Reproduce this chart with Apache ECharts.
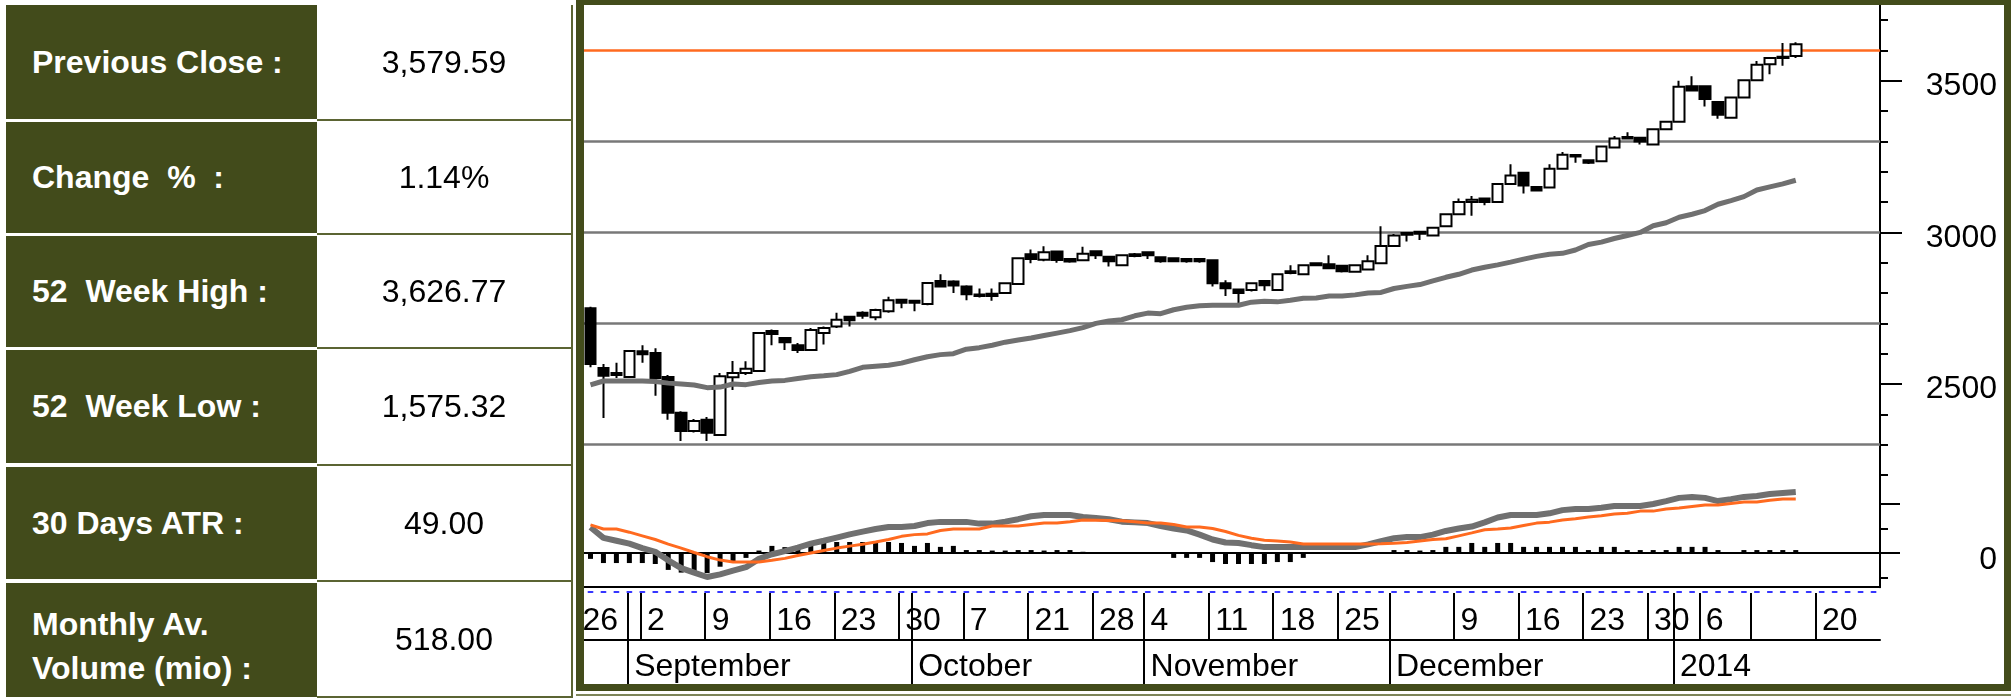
<!DOCTYPE html>
<html>
<head>
<meta charset="utf-8">
<title>Index – daily chart</title>
<script src="https://cdn.jsdelivr.net/npm/echarts@6/dist/echarts.min.js"></script>
<style>
  html, body { margin: 0; padding: 0; background: #fff; }
  #page { position: relative; width: 2011px; height: 700px; overflow: hidden; font-family: 'Liberation Sans', Arial, sans-serif; }
  #chart { position: absolute; left: 0; top: 0; width: 2011px; height: 700px; }
  .lab { position: absolute; left: 6px; width: 311px; background: #424b1b; color: #fff; font-weight: bold; font-size: 32px;
         display: flex; align-items: center; padding-left: 26px; box-sizing: border-box; white-space: pre; z-index: 2; }
  .lab.two { line-height: 44px; padding-top: 12px; }
  .val { position: absolute; left: 317px; width: 256px; color: #000; font-size: 32px; display: flex; align-items: center;
         justify-content: center; box-sizing: border-box; border-right: 2px solid #5b6433; border-bottom: 2px solid #5b6433; z-index: 2; }
  #frame { position: absolute; left: 576px; top: 0; width: 1435px; height: 691px; box-sizing: border-box; border-style: solid;
           border-color: #434c1b; border-width: 5px 7px 7px 8px; z-index: 3; pointer-events: none; }
  #under { position: absolute; left: 576px; top: 694px; width: 1435px; height: 2px; background: #7d8559; z-index: 3; }
</style>
</head>
<body>
<div id="page">
  <div id="chart"></div>

  <div class="lab" style="top:5px;height:114px">Previous Close :</div>
  <div class="val" style="top:5px;height:116px">3,579.59</div>
  <div class="lab" style="top:122px;height:111px">Change  %  :</div>
  <div class="val" style="top:121px;height:114px">1.14%</div>
  <div class="lab" style="top:236px;height:111px">52  Week High :</div>
  <div class="val" style="top:235px;height:114px">3,626.77</div>
  <div class="lab" style="top:350px;height:113px">52  Week Low :</div>
  <div class="val" style="top:349px;height:117px">1,575.32</div>
  <div class="lab" style="top:467px;height:112px">30 Days ATR :</div>
  <div class="val" style="top:466px;height:116px">49.00</div>
  <div class="lab two" style="top:583px;height:114px">Monthly Av.
Volume (mio) :</div>
  <div class="val" style="top:582px;height:116px">518.00</div>

  <div id="frame"></div>
  <div id="under"></div>
</div>

<script>
// trading days shown on the chart (last 6 are future sessions)
const days = [
  '2013-08-27','2013-08-28','2013-08-29',
  '2013-09-01','2013-09-02','2013-09-03','2013-09-04','2013-09-05','2013-09-08',
  '2013-09-09','2013-09-10','2013-09-11','2013-09-12','2013-09-15',
  '2013-09-16','2013-09-17','2013-09-18','2013-09-19','2013-09-22',
  '2013-09-23','2013-09-24','2013-09-25','2013-09-26','2013-09-29','2013-09-30',
  '2013-10-01','2013-10-02','2013-10-03','2013-10-06',
  '2013-10-07','2013-10-08','2013-10-09','2013-10-10','2013-10-13',
  '2013-10-21','2013-10-22','2013-10-23','2013-10-24','2013-10-27',
  '2013-10-28','2013-10-29','2013-10-30','2013-10-31',
  '2013-11-04','2013-11-05','2013-11-06','2013-11-07','2013-11-10',
  '2013-11-11','2013-11-12','2013-11-13','2013-11-14','2013-11-17',
  '2013-11-18','2013-11-19','2013-11-20','2013-11-21','2013-11-24',
  '2013-11-25','2013-11-26','2013-11-27','2013-11-28',
  '2013-12-01','2013-12-03','2013-12-04','2013-12-05','2013-12-08',
  '2013-12-09','2013-12-10','2013-12-11','2013-12-12','2013-12-15',
  '2013-12-16','2013-12-17','2013-12-18','2013-12-19','2013-12-22',
  '2013-12-23','2013-12-24','2013-12-25','2013-12-26','2013-12-29',
  '2013-12-30','2013-12-31',
  '2014-01-02','2014-01-05',
  '2014-01-06','2014-01-07','2014-01-08','2014-01-09',
  '2014-01-13','2014-01-14','2014-01-15','2014-01-16','2014-01-19',
  '2014-01-20','2014-01-21','2014-01-22','2014-01-23','2014-01-26'
];
// extra dates only used by the date strip under the chart
const leadDay = ['2013-08-26'];
const padDays = ['2014-01-27','2014-01-28','2014-01-29','2014-01-30','2014-02-02',
                 '2014-02-03','2014-02-04','2014-02-05','2014-02-06','2014-02-09'];

const weekTickDays = ['2013-09-02','2013-09-09','2013-09-16','2013-09-23','2013-09-30','2013-10-07',
  '2013-10-21','2013-10-28','2013-11-04','2013-11-11','2013-11-18','2013-11-25','2013-12-09',
  '2013-12-16','2013-12-23','2013-12-30','2014-01-06','2014-01-13','2014-01-20'];
const weekLabelDays = ['2013-08-26','2013-09-02','2013-09-09','2013-09-16','2013-09-23','2013-09-30',
  '2013-10-07','2013-10-21','2013-10-28','2013-11-04','2013-11-11','2013-11-18','2013-11-25',
  '2013-12-09','2013-12-16','2013-12-23','2013-12-30','2014-01-06','2014-01-20'];
const weekLabelText = ['26','2','9','16','23','30','7','21','28','4','11','18','25','9','16','23','30','6','20'];
const monthDays = ['2013-09-01','2013-10-01','2013-11-04','2013-12-01','2014-01-02'];
const monthText = ['September','October','November','December','2014'];

const candleOpen = [2750,2553,2536,2523,2608,2602,2523,2405,2345,2382,
  2332,2522,2536,2543,2675,2652,2628,2612,2668,2690,
  2722,2735,2720,2740,2778,2775,2764,2840,2838,2822,
  2790,2798,2800,2830,2928,2910,2937,2912,2908,2938,
  2920,2892,2928,2935,2918,2915,2912,2912,2908,2832,
  2812,2810,2840,2810,2866,2862,2892,2895,2890,2870,
  2878,2898,2955,2998,3002,2990,3020,3060,3100,3112,
  3100,3160,3197,3150,3148,3210,3255,3238,3235,3280,
  3310,3312,3290,3340,3365,3482,3482,3430,3378,3445,
  3502,3555,3575,3582];
const candleClose = [2566,2527,2530,2609,2598,2520,2405,2345,2378,2339,
  2526,2536,2550,2668,2665,2638,2612,2678,2685,2712,
  2710,2725,2744,2776,2768,2768,2833,2822,2825,2796,
  2795,2790,2832,2915,2912,2935,2909,2904,2930,2925,
  2905,2925,2922,2925,2905,2905,2905,2905,2832,2816,
  2800,2832,2826,2862,2872,2892,2898,2882,2872,2892,
  2905,2955,2990,2992,2996,3015,3060,3100,3108,3100,
  3160,3188,3155,3138,3210,3256,3250,3230,3283,3310,
  3315,3300,3340,3365,3480,3468,3440,3388,3445,3502,
  3553,3575,3579.59,3620.42];
const candleLow = [2555,2388,2520,2520,2570,2461,2382,2312,2340,2312,
  2330,2480,2530,2540,2628,2612,2602,2610,2630,2685,
  2690,2715,2710,2735,2750,2740,2760,2820,2800,2776,
  2785,2775,2798,2828,2898,2905,2900,2900,2905,2912,
  2888,2890,2918,2912,2900,2902,2900,2900,2822,2790,
  2766,2805,2808,2808,2862,2860,2890,2880,2868,2868,
  2876,2896,2953,2970,2975,2988,3018,3058,3055,3090,
  3098,3158,3128,3135,3146,3208,3230,3226,3233,3278,
  3308,3290,3288,3338,3363,3465,3415,3375,3376,3443,
  3500,3522,3550,3575];
const candleHigh = [2755,2566,2570,2612,2628,2618,2530,2410,2385,2391,
  2536,2576,2575,2670,2680,2655,2635,2685,2690,2735,
  2725,2740,2748,2788,2780,2778,2835,2862,2842,2826,
  2815,2815,2835,2918,2944,2954,2940,2915,2953,2940,
  2922,2927,2932,2938,2920,2918,2914,2914,2910,2842,
  2815,2835,2842,2864,2892,2895,2900,2925,2892,2894,
  2925,3020,2995,3000,3004,3017,3062,3112,3120,3114,
  3162,3225,3199,3152,3225,3265,3258,3240,3285,3318,
  3330,3314,3342,3367,3500,3515,3484,3432,3447,3504,
  3565,3577,3625,3626.77];

const movingAvg = [2497,2510,2510,2510,2510,2508,2503,2500,2497,2488,
  2490,2500,2498,2505,2510,2512,2518,2524,2527,2531,
  2542,2555,2559,2562,2569,2580,2590,2597,2600,2615,
  2620,2628,2638,2645,2652,2660,2668,2676,2686,2700,
  2708,2712,2725,2734,2732,2745,2753,2758,2760,2760,
  2760,2770,2773,2771,2776,2783,2784,2790,2790,2794,
  2800,2802,2815,2822,2828,2840,2852,2862,2876,2885,
  2893,2902,2912,2921,2928,2931,2942,2960,2968,2980,
  2990,3000,3022,3032,3050,3060,3072,3093,3105,3118,
  3140,3150,3160,3172];

const macdLine = [1.05,0.62,0.5,0.38,0.2,0.05,-0.3,-0.62,-0.8,-0.98,
  -0.87,-0.72,-0.58,-0.24,-0.05,0.08,0.22,0.38,0.5,0.63,
  0.76,0.87,0.98,1.06,1.06,1.1,1.22,1.27,1.27,1.27,
  1.2,1.2,1.28,1.38,1.5,1.55,1.55,1.55,1.47,1.43,
  1.38,1.28,1.25,1.22,1.1,1.0,0.92,0.75,0.55,0.43,
  0.41,0.32,0.24,0.24,0.24,0.24,0.24,0.24,0.24,0.24,
  0.35,0.48,0.6,0.65,0.65,0.75,0.9,1.0,1.08,1.25,
  1.45,1.55,1.55,1.55,1.62,1.75,1.8,1.8,1.85,1.92,
  1.92,1.92,2.0,2.12,2.25,2.29,2.25,2.12,2.2,2.29,
  2.33,2.41,2.45,2.49];
const signalLine = [1.15,0.98,0.98,0.85,0.7,0.55,0.36,0.2,0.02,-0.15,
  -0.29,-0.37,-0.37,-0.37,-0.3,-0.22,-0.1,0,0.1,0.2,
  0.28,0.36,0.45,0.55,0.68,0.75,0.78,0.92,0.98,0.98,
  0.98,1.1,1.1,1.1,1.16,1.22,1.22,1.28,1.35,1.34,
  1.33,1.32,1.28,1.22,1.22,1.16,1.06,1.06,1.0,0.88,
  0.72,0.6,0.52,0.49,0.45,0.37,0.37,0.37,0.37,0.37,
  0.37,0.38,0.4,0.43,0.49,0.55,0.58,0.7,0.82,0.95,
  0.98,1.02,1.12,1.22,1.26,1.35,1.4,1.47,1.52,1.59,
  1.62,1.71,1.71,1.8,1.84,1.9,1.96,1.96,2.02,2.08,
  2.08,2.15,2.2,2.2];
const histogram = [-0.24,-0.41,-0.41,-0.41,-0.41,-0.45,-0.69,-0.8,-0.82,-0.82,
  -0.56,-0.37,-0.2,0.1,0.29,0.24,0.29,0.33,0.41,0.45,
  0.45,0.45,0.41,0.45,0.41,0.29,0.41,0.25,0.29,0.12,
  0.12,0.1,0.1,0.12,0.12,0.1,0.12,0.12,0.05,0.04,
  0,0,0,0,0,-0.2,-0.2,-0.2,-0.37,-0.45,
  -0.45,-0.45,-0.45,-0.37,-0.37,-0.2,0,0,0,0,
  0,0.03,0.12,0.12,0.1,0.12,0.25,0.25,0.41,0.25,
  0.41,0.41,0.25,0.25,0.25,0.25,0.25,0.12,0.25,0.25,
  0.12,0.12,0.12,0.12,0.25,0.25,0.25,0.12,0.04,0.12,
  0.12,0.12,0.12,0.12];

const levelLines = [2300, 2700, 3000, 3300];
const highLevel = [3600];
const priceTicks = [2200,2300,2400,2500,2600,2700,2800,2900,3000,3100,3200,3300,3400,3500,3600,3700];
const priceLabels = [2500, 3000, 3500];
const lowerMinorTicks = [-1, 1];
const lowerMajorTicks = [0, 2];
const lowerLabels = [0];

const FONT = 'Liberation Sans';
const BLACK = '#000';
const GREY = '#707070';
const ORANGE = '#ff6a1f';

const stripDays = leadDay.concat(days, padDays);
const weekTickSet = new Set(weekTickDays);
const monthTickSet = new Set(monthDays);
const weekLabel = {};
weekLabelDays.forEach((d, i) => { weekLabel[d] = weekLabelText[i]; });
const monthLabel = {};
monthDays.forEach((d, i) => { monthLabel[d] = monthText[i]; });

const candles = candleOpen.map((o, i) => [o, candleClose[i], candleLow[i], candleHigh[i]]);

const DAY_W = 12.91;
const STRIP_LEFT = 589 - DAY_W;
const STRIP_W = stripDays.length * DAY_W;

// horizontal rule under the lower panel (grid 4)
const ruleAxis = (position, offset, lineStyle) => ({
  gridIndex: 4, type: 'category', data: days, position, offset,
  axisLine: { show: true, onZero: false, lineStyle }, axisTick: { show: false }, axisLabel: { show: false }
});
const hiddenY = gridIndex => ({ gridIndex, type: 'value', show: false, min: 0, max: 1 });

const chart = echarts.init(document.getElementById('chart'));

chart.setOption({
  animation: false,
  backgroundColor: 'transparent',
  textStyle: { fontFamily: FONT },
  grid: [
    { left: 584, top: 5, width: 1296, height: 470 },          // price panel
    { left: 584, top: 474.6, width: 1296, height: 112.7 },    // oscillator panel
    { left: STRIP_LEFT, top: 593, width: STRIP_W, height: 47 },  // day row
    { left: STRIP_LEFT, top: 593, width: STRIP_W, height: 92 },  // day + month rows
    { left: 584, top: 592, width: 1296, height: 48 }           // rules
  ],
  xAxis: [
    { gridIndex: 0, type: 'category', data: days, show: false },
    { gridIndex: 1, type: 'category', data: days,
      axisLine: { show: true, onZero: true, lineStyle: { color: BLACK, width: 2 } },
      axisTick: { show: false }, axisLabel: { show: false } },
    // week separators + day numbers
    { gridIndex: 2, type: 'category', data: stripDays, position: 'top',
      axisLine: { show: false }, axisTick: { show: false },
      splitLine: { show: true, interval: (i, v) => weekTickSet.has(v), lineStyle: { color: BLACK, width: 2 } },
      axisLabel: { inside: true, interval: (i, v) => v in weekLabel, formatter: v => weekLabel[v] || '',
                   align: 'left', margin: 12, fontSize: 32, fontFamily: FONT, color: BLACK } },
    // month separators through both rows + month names
    { gridIndex: 3, type: 'category', data: stripDays, position: 'bottom',
      axisLine: { show: false }, axisTick: { show: false },
      splitLine: { show: true, interval: (i, v) => monthTickSet.has(v), lineStyle: { color: BLACK, width: 2 } },
      axisLabel: { inside: true, interval: (i, v) => v in monthLabel, formatter: v => monthLabel[v] || '',
                   align: 'left', margin: 2, fontSize: 32, fontFamily: FONT, color: BLACK } },
    ruleAxis('top', 5, { color: BLACK, width: 2 }),
    ruleAxis('top', 0, { color: '#3535ff', width: 2, type: [4, 8.96], dashOffset: 8.46 }),
    ruleAxis('bottom', 0, { color: BLACK, width: 2 })
  ],
  yAxis: [
    { gridIndex: 0, type: 'value', position: 'right', min: 2200, max: 3750, splitLine: { show: false },
      axisLine: { show: true, lineStyle: { color: BLACK, width: 2 } },
      axisTick: { show: true, length: 8, customValues: priceTicks, lineStyle: { color: BLACK, width: 2 } },
      axisLabel: { customValues: priceLabels, formatter: v => String(v), align: 'right', margin: 117,
                   verticalAlign: 'top', lineHeight: 11, fontSize: 32, fontFamily: FONT, color: BLACK } },
    { gridIndex: 0, type: 'value', position: 'right', min: 2200, max: 3750, splitLine: { show: false },
      axisLine: { show: false },
      axisTick: { show: true, length: 22, customValues: priceLabels, lineStyle: { color: BLACK, width: 2 } },
      axisLabel: { show: false } },
    { gridIndex: 1, type: 'value', position: 'right', min: -1.4, max: 3.2, splitLine: { show: false },
      axisLine: { show: true, lineStyle: { color: BLACK, width: 2 } },
      axisTick: { show: true, length: 8, customValues: lowerMinorTicks, lineStyle: { color: BLACK, width: 2 } },
      axisLabel: { customValues: lowerLabels, formatter: v => String(v), align: 'right', margin: 117,
                   verticalAlign: 'top', lineHeight: 14, fontSize: 32, fontFamily: FONT, color: BLACK } },
    { gridIndex: 1, type: 'value', position: 'right', min: -1.4, max: 3.2, splitLine: { show: false },
      axisLine: { show: false },
      axisTick: { show: true, length: 20, customValues: lowerMajorTicks, lineStyle: { color: BLACK, width: 2 } },
      axisLabel: { show: false } },
    hiddenY(2), hiddenY(3), hiddenY(4)
  ],
  series: [
    {
      type: 'candlestick', xAxisIndex: 0, yAxisIndex: 0, data: candles, barWidth: 11, z: 2,
      itemStyle: { color: '#fff', color0: BLACK, borderColor: BLACK, borderColor0: BLACK, borderWidth: 2 },
      markLine: {
        silent: true, symbol: 'none', z: 1, label: { show: false },
        data: levelLines.map(v => ({ yAxis: v, lineStyle: { color: '#787878', width: 2.5, type: 'solid' } }))
          .concat(highLevel.map(v => ({ yAxis: v, lineStyle: { color: ORANGE, width: 2.5, type: 'solid' } })))
      }
    },
    { type: 'line', xAxisIndex: 0, yAxisIndex: 0, data: movingAvg, symbol: 'none', z: 3,
      lineStyle: { color: GREY, width: 5 } },
    { type: 'bar', xAxisIndex: 1, yAxisIndex: 2, data: histogram, barWidth: 5, z: 2,
      itemStyle: { color: BLACK } },
    { type: 'line', xAxisIndex: 1, yAxisIndex: 2, data: macdLine, symbol: 'none', z: 3,
      lineStyle: { color: GREY, width: 6 } },
    { type: 'line', xAxisIndex: 1, yAxisIndex: 2, data: signalLine, symbol: 'none', z: 4,
      lineStyle: { color: ORANGE, width: 3 } }
  ]
});
</script>
</body>
</html>
